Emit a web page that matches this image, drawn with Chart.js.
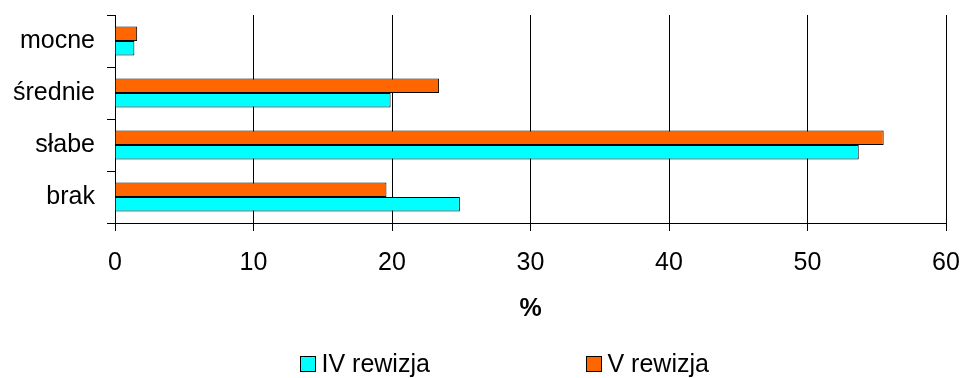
<!DOCTYPE html>
<html>
<head>
<meta charset="utf-8">
<script src="https://cdn.jsdelivr.net/npm/chart.js@4/dist/chart.umd.min.js"></script>
<style>
  html, body { margin: 0; padding: 0; background: #ffffff; }
  #wrap { width: 966px; height: 378px; }
</style>
</head>
<body>
<div id="wrap"><canvas id="c" width="966" height="378"></canvas></div>
<script>
// Kategorie siły (od góry do dołu)
const categories = ['mocne', 'średnie', 'słabe', 'brak'];
// Udział procentowy w kolejnych rewizjach
const rewizjaIV = [1.4, 19.9, 53.7, 24.9];
const rewizjaV = [1.6, 23.4, 55.5, 19.6];
// Podziałka osi X
const xTicks = [0, 10, 20, 30, 40, 50, 60];
const xTitle = '%';
const seriesNames = ['IV rewizja', 'V rewizja'];

const FONT = '"Liberation Sans", Arial, Helvetica, sans-serif';
const FONT_SIZE = 25;
const CYAN = '#00FFFF';
const ORANGE = '#FF6600';

// Legenda rysowana pod wykresem, w kolejności IV, V
const bottomLegend = {
  id: 'bottomLegend',
  afterDraw(chart) {
    const ctx = chart.ctx;
    const area = chart.chartArea;
    const cx = (area.left + area.right) / 2;
    const y = 364;
    const offsets = [-230.5, 55.5];
    const order = [1, 0];
    ctx.save();
    ctx.font = FONT_SIZE + 'px ' + FONT;
    ctx.textBaseline = 'middle';
    ctx.textAlign = 'left';
    order.forEach((dsIndex, i) => {
      const ds = chart.data.datasets[dsIndex];
      const x = Math.round(cx + offsets[i]) + 0.5;
      ctx.fillStyle = ds.backgroundColor;
      ctx.fillRect(x, y - 7.5, 15, 15);
      ctx.strokeStyle = '#000000';
      ctx.lineWidth = 1;
      ctx.strokeRect(x, y - 7.5, 15, 15);
      ctx.fillStyle = '#000000';
      ctx.fillText(ds.label, x + 21, y + 1);
    });
    ctx.restore();
  }
};

new Chart(document.getElementById('c'), {
  type: 'bar',
  data: {
    labels: categories,
    datasets: [
      {
        label: seriesNames[1],
        data: rewizjaV,
        backgroundColor: ORANGE,
        borderColor: '#000000',
        borderWidth: 1,
        categoryPercentage: 0.56,
        barPercentage: 1.0
      },
      {
        label: seriesNames[0],
        data: rewizjaIV,
        backgroundColor: CYAN,
        borderColor: '#000000',
        borderWidth: 1,
        categoryPercentage: 0.56,
        barPercentage: 1.0
      }
    ]
  },
  options: {
    indexAxis: 'y',
    responsive: false,
    animation: false,
    layout: { padding: { top: 15, right: 20, bottom: 54, left: 0 } },
    plugins: {
      legend: { display: false },
      tooltip: { enabled: false },
      title: { display: false }
    },
    scales: {
      x: {
        type: 'linear',
        min: xTicks[0],
        max: xTicks[xTicks.length - 1],
        afterBuildTicks(scale) {
          scale.ticks = xTicks.map(v => ({ value: v }));
        },
        afterFit(scale) {
          scale.height = 101;
          scale.paddingLeft = 0;
          scale.paddingRight = 0;
        },
        grid: {
          color: '#000000',
          lineWidth: 1,
          tickLength: 8,
          drawTicks: true
        },
        border: { display: true, color: '#000000', width: 1 },
        ticks: {
          color: '#000000',
          padding: 17,
          font: { family: FONT, size: FONT_SIZE },
          maxRotation: 0
        },
        title: {
          display: true,
          text: xTitle,
          color: '#000000',
          font: { family: FONT, size: FONT_SIZE, weight: 'bold' },
          padding: { top: 18, bottom: 0 }
        }
      },
      y: {
        type: 'category',
        offset: true,
        afterFit(scale) {
          scale.width = 115;
          scale.paddingTop = 0;
          scale.paddingBottom = 0;
        },
        grid: {
          offset: true,
          drawOnChartArea: false,
          color: '#000000',
          tickLength: 8,
          lineWidth: 1
        },
        border: { display: true, color: '#000000', width: 1 },
        ticks: {
          color: '#000000',
          padding: 12,
          font: { family: FONT, size: FONT_SIZE }
        }
      }
    }
  },
  plugins: [bottomLegend]
});
</script>
</body>
</html>
